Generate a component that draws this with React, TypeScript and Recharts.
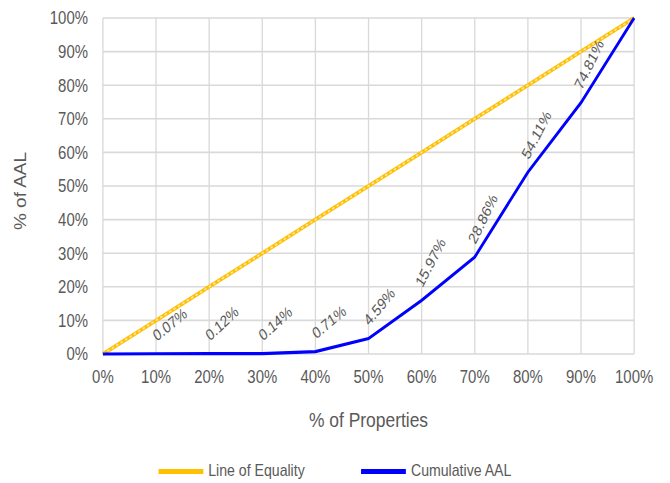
import { LineChart, Line, XAxis, YAxis, CartesianGrid, Legend } from 'recharts';

const properties = [0, 10, 20, 30, 40, 50, 60, 70, 80, 90, 100];
const equality = [0, 10, 20, 30, 40, 50, 60, 70, 80, 90, 100];
const cumulativeAAL = [0, 0.07, 0.12, 0.14, 0.71, 4.59, 15.97, 28.86, 54.11, 74.81, 100];
const ticks = [0, 10, 20, 30, 40, 50, 60, 70, 80, 90, 100];

// label tilt (degrees) for each point of the cumulative line
const LABEL_ANGLES = [0, 34, 38, 37, 35, 45, 58, 60, 58, 60, 0];

// the chart is drawn wide and squeezed horizontally to get condensed text
const SQUEEZE = 0.83;
const OUT_W = 670;
const OUT_H = 483;
const CHART_W = Math.round(OUT_W / SQUEEZE);

const FONT = "'Liberation Sans', Arial, sans-serif";
const TEXT = '#595959';
const YELLOW = '#FFC000';
const BLUE = '#0000FF';

const chartData = properties.map((p, i) => ({
  p,
  equality: equality[i],
  cumulative: cumulativeAAL[i],
}));

const pct = (v: number) => `${v}%`;

const ValueLabel = (props: any) => {
  const { x, y, value, index } = props;
  if (index === 0 || index === cumulativeAAL.length - 1) return null;
  const sx = x + 1;
  const sy = y - 12;
  return (
    <text
      x={sx}
      y={sy}
      transform={`rotate(${-LABEL_ANGLES[index]}, ${sx}, ${sy})`}
      fill={TEXT}
      fontSize={16}
      fontFamily={FONT}
      textAnchor="start"
    >
      {value.toFixed(2)}%
    </text>
  );
};

const LegendContent = () => {
  const items = [
    { name: 'Line of Equality', color: YELLOW },
    { name: 'Cumulative AAL', color: BLUE },
  ];
  return (
    <div
      style={{
        display: 'flex',
        justifyContent: 'center',
        gap: 68,
        paddingTop: 32,
        fontFamily: FONT,
        fontSize: 17,
        color: TEXT,
      }}
    >
      {items.map((it) => (
        <div key={it.name} style={{ display: 'flex', alignItems: 'center' }}>
          <div style={{ width: 54, height: 5, background: it.color, marginRight: 6 }} />
          <span>{it.name}</span>
        </div>
      ))}
    </div>
  );
};

export default function App() {
  return (
    <div
      style={{
        position: 'absolute',
        left: 0,
        top: 0,
        width: OUT_W,
        height: OUT_H,
        overflow: 'hidden',
        background: '#fff',
      }}
    >
      <div style={{ width: CHART_W, height: OUT_H, transform: `scaleX(${SQUEEZE})`, transformOrigin: '0 0' }}>
        <LineChart
          width={CHART_W}
          height={OUT_H}
          data={chartData}
          margin={{ top: 18, right: 43, left: 0, bottom: 0 }}
        >
          <CartesianGrid stroke="#D9D9D9" strokeWidth={1.6} />
          <XAxis
            dataKey="p"
            type="number"
            domain={[0, 100]}
            ticks={ticks}
            tickFormatter={pct}
            axisLine={false}
            tickLine={false}
            tickSize={0}
            tickMargin={16}
            height={75}
            interval={0}
            tick={{ fill: TEXT, fontSize: 18, fontFamily: FONT }}
            label={{
              value: '% of Properties',
              position: 'insideBottom',
              offset: 2,
              fill: TEXT,
              fontSize: 21,
              fontFamily: FONT,
            }}
          />
          <YAxis
            type="number"
            domain={[0, 100]}
            ticks={ticks}
            tickFormatter={pct}
            axisLine={false}
            tickLine={false}
            tickSize={0}
            tickMargin={18}
            width={124}
            interval={0}
            tick={{ fill: TEXT, fontSize: 18, fontFamily: FONT }}
            label={{
              value: '% of AAL',
              angle: -90,
              position: 'insideLeft',
              offset: 24,
              dy: 5,
              fill: TEXT,
              fontSize: 19,
              fontFamily: FONT,
              style: { textAnchor: 'middle' },
            }}
          />
          <Legend
            verticalAlign="bottom"
            height={54}
            wrapperStyle={{ left: 0, width: CHART_W }}
            content={<LegendContent />}
          />
          <Line
            dataKey="equality"
            name="Line of Equality"
            stroke={YELLOW}
            strokeWidth={4}
            dot={false}
            activeDot={false}
            isAnimationActive={false}
          />
          <Line
            dataKey="equality"
            name="equality-dash"
            stroke="#FCE6A8"
            strokeWidth={1.8}
            strokeDasharray="3 3"
            dot={false}
            activeDot={false}
            legendType="none"
            isAnimationActive={false}
          />
          <Line
            dataKey="cumulative"
            name="Cumulative AAL"
            stroke={BLUE}
            strokeWidth={3.2}
            dot={false}
            activeDot={false}
            isAnimationActive={false}
            label={<ValueLabel />}
          />
        </LineChart>
      </div>
    </div>
  );
}
